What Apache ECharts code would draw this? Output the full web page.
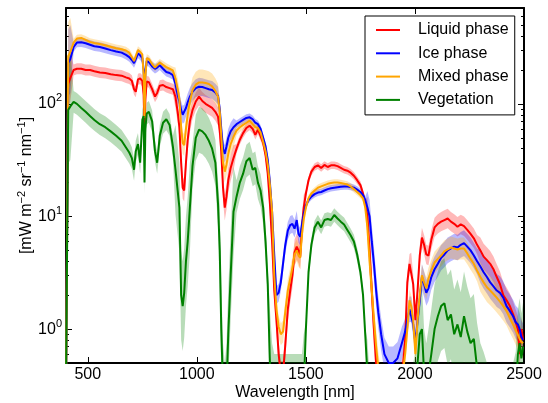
<!DOCTYPE html>
<html><head><meta charset="utf-8">
<script src="https://cdn.jsdelivr.net/npm/echarts@6/dist/echarts.min.js"></script>
<style>html,body{margin:0;padding:0;background:#fff}#c{width:548px;height:403px}</style>
</head><body><div id="c"></div>
<script>
// ---- data ----
const wavelengths = [
 400,410,420,435,450,470,490,510,530,555,
 580,605,630,655,675,690,702,712,720,730,
 740,750,756,760,764,770,780,795,808,818,
 830,845,860,875,890,902,912,920,928,935,
 942,950,958,968,980,995,1010,1025,1040,1055,
 1070,1085,1097,1105,1112,1120,1128,1136,1144,1155,
 1168,1182,1197,1212,1227,1242,1256,1268,1280,1292,
 1304,1315,1325,1335,1345,1355,1365,1375,1385,1395,
 1405,1417,1428,1438,1448,1458,1466,1474,1482,1490,
 1500,1512,1525,1540,1555,1570,1585,1600,1615,1630,
 1645,1660,1675,1690,1705,1720,1735,1750,1762,1772,
 1782,1792,1802,1812,1822,1832,1845,1860,1880,1900,
 1920,1940,1955,1965,1975,1983,1992,2002,2012,2022,
 2032,2042,2052,2062,2075,2090,2105,2120,2135,2150,
 2165,2180,2195,2210,2225,2240,2255,2270,2285,2300,
 2315,2330,2345,2360,2375,2390,2405,2420,2435,2450,
 2462,2472,2480,2488,2496];

const liquid = [
 0.3,150,170,200,205,205,200,200,195,190,
 188,183,180,178,172,168,160,135,128,165,
 168,160,120,60,110,158,156,135,116,125,
 145,147,141,138,135,115,85,62,30,18,
 17,30,48,70,88,105,116,106,100,96,
 92,85,77,58,38,18,12,15,21,27,
 33,40,48,55,61,64,60,53,59,52,
 45,35,24,13,6,2.2,1.2,0.6,0.4,0.4,
 0.7,1.5,2.2,3.0,4.8,5.4,5.0,4.4,8,12,
 16,21,25,27.5,28.5,27,28.7,27.5,28.5,28.5,
 28,27,26,25.5,24.5,23,21,19,16,13,
 10,5,2.2,1.0,0.5,0.3,0.2,0.2,0.2,0.2,
 0.3,0.35,0.8,2.6,3.8,3.9,2.5,1.2,2.2,4.5,
 6.5,5.6,4.6,4.5,6.2,8.0,8.6,9.0,9.3,9.6,
 9.0,8.6,8.1,8.5,8.2,7.6,7.0,6.4,5.6,5.0,
 4.4,4.1,3.8,3.4,2.9,2.5,2.0,1.8,1.6,1.35,
 1.15,1.0,0.6,1.0,0.8];

const ice = [
 0.3,230,250,320,350,352,345,335,325,320,
 310,300,292,285,272,260,245,230,250,280,
 270,255,200,110,190,240,235,215,205,210,
 220,205,192,188,180,150,120,105,88,80,
 82,92,103,116,128,138,142,141,138,135,
 133,126,118,90,60,40,36,42,50,57,
 62,66,69,72,75,76,73,68,66,60,
 50,42,32,20,11,4.5,2.0,2.1,2.6,3.8,
 5.5,7.5,8.4,8.6,7.8,9.3,7.0,6.6,8.5,10.5,
 12.5,14,15,15.8,16.3,16.5,17,17.5,17.8,18,
 18.2,18.4,18.5,18.5,18.3,18,17.3,16.5,15.5,14,
 12,10,6,3.8,2.2,1.4,0.9,0.6,0.5,0.5,
 0.55,0.75,0.95,1.2,1.5,1.5,1.1,0.75,1.2,1.8,
 2.9,2.5,2.1,2.3,2.9,3.4,3.8,4.3,4.6,5.0,
 5.2,5.4,5.3,5.6,5.8,5.4,5.0,4.5,4.0,3.6,
 3.2,2.9,2.6,2.4,2.2,2.1,1.9,1.6,1.45,1.3,
 1.15,1.1,1.0,0.85,0.8];

const mixed = [
 0.3,265,290,350,380,385,370,355,347,340,
 332,322,312,305,298,285,260,240,265,300,
 290,275,180,75,170,255,250,225,210,220,
 232,222,212,205,198,168,135,110,62,45,
 43,60,80,105,132,148,155,155,153,150,
 143,130,116,85,52,30,25,29,36,44,
 51,58,62,65,68,71,66,62,61,56,
 46,38,29,19,11,3,1.5,1.05,0.9,0.95,
 1.4,2.2,2.8,3.5,4.6,5.0,4.5,4.3,7,9.5,
 12,14.5,16,17,18,18.5,19,19.5,19.8,20,
 20,19.8,19.5,19.2,18.5,17.5,16.5,15.5,14.5,12,
 8,4,2.2,1.2,0.7,0.45,0.3,0.2,0.2,0.2,
 0.25,0.35,0.6,1.0,1.8,1.6,1.2,0.6,1.2,2.0,
 3.0,2.6,2.3,2.8,3.3,3.9,4.2,4.5,4.9,5.1,
 5.3,5.2,5.1,5.2,5.2,4.7,4.2,3.8,3.3,2.9,
 2.6,2.35,2.2,2.05,1.9,1.75,1.6,1.45,1.25,1.1,
 0.98,0.89,0.82,0.77,0.75];

const vegetation = [
 0.3,88,95,104,100,92,85,78,72,66,
 62,57,52,47,41,37,33,26,38,44,
 30,72,78,20,60,82,85,70,38,30,
 52,68,73,65,42,26,17,12,2.0,1.6,
 2.1,4,6,12,28,50,59,57,53,47,
 40,30,13,5,1,0.3,0.2,0.3,0.9,3,
 11,15,20,24,31,33,26,27,20,17,
 12,6,2.5,0.5,0.25,0.2,0.2,0.2,0.2,0.2,
 0.2,0.2,0.2,0.2,0.2,0.2,0.2,0.2,0.2,0.3,
 1.0,3.2,5.6,8,9,8,9.3,9.5,9.3,10.3,
 9.6,9,8.5,7.6,6.8,6.0,4.6,3.2,2.0,0.9,
 0.4,0.2,0.2,0.2,0.2,0.2,0.2,0.2,0.2,0.2,
 0.2,0.2,0.2,0.2,0.2,0.2,0.2,0.25,0.5,0.9,
 1.0,0.4,0.3,0.4,0.6,1.0,1.3,1.6,1.7,1.2,
 1.35,0.9,1.1,0.85,1.3,0.95,0.75,0.82,0.45,0.3,
 0.25,0.2,0.2,0.2,0.2,0.2,0.2,0.2,0.2,0.2,
 0.25,0.6,0.75,0.55,0.7];

// spread of the shaded bands (multiplicative), per wavelength segment
const bandEdges = [400, 425, 900, 980, 1100, 1170, 1330, 1500, 1780, 1950, 2300];
const liquidSpread     = [1.6, 1.12, 1.25, 1.2, 1.3, 1.1, 1.3, 1.08, 1.5, 1.22, 1.3];
const iceSpread        = [2.0, 1.1, 1.2, 1.2, 1.2, 1.08, 1.2, 1.07, 1.4, 1.3, 1.4];
const mixedSpread      = [2.0, 1.08, 1.25, 1.3, 1.25, 1.1, 1.25, 1.07, 1.4, 1.25, 1.35];
const vegetationSpread = [3.0, 1.25, 2.5, 1.6, 2.5, 1.4, 3.0, 1.15, 2.0, 2.5, 2.5];

const seriesNames = ['Liquid phase', 'Ice phase', 'Mixed phase', 'Vegetation'];
const xTickValues = [500, 1000, 1500, 2000, 2500];
const yMajorTicks = [1, 10, 100];
const yMinorTicks = [0.6,0.7,0.8,0.9, 2,3,4,5,6,7,8,9, 20,30,40,50,60,70,80,90, 200,300,400,500,600,700];
const yMin = 0.5, yMax = 710;
const xMin = 400, xMax = 2500;

// ---- chart ----
const FONT = 'Liberation Sans, Arial, sans-serif';
const colors = ['#ff0000', '#0000ff', '#ffa500', '#008000'];
const valueSets = [liquid, ice, mixed, vegetation];
const spreadSets = [liquidSpread, iceSpread, mixedSpread, vegetationSpread];

function segmentOf(w) { let s = 0; for (let i = 0; i < bandEdges.length; i++) if (w >= bandEdges[i]) s = i; return s; }

const series = [];
valueSets.forEach((vals, i) => {
  const sp = spreadSets[i];
  series.push({
    type: 'custom', name: seriesNames[i] + ' band', silent: true, z: 1, clip: true,
    xAxisIndex: 0, yAxisIndex: 0,
    data: [[1000, 10]],
    renderItem: (params, api) => {
      const lower = wavelengths.map((w, k) => api.coord([w, vals[k] / sp[segmentOf(w)]]));
      const upper = wavelengths.map((w, k) => api.coord([w, vals[k] * sp[segmentOf(w)]])).reverse();
      const cs = params.coordSys;
      return {
        type: 'group',
        clipPath: { type: 'rect', shape: { x: cs.x, y: cs.y, width: cs.width, height: cs.height } },
        children: [{ type: 'polygon', shape: { points: lower.concat(upper) },
                     style: { fill: colors[i], opacity: 0.28 } }]
      };
    }
  });
});
valueSets.forEach((vals, i) => {
  series.push({
    type: 'line', name: seriesNames[i], symbol: 'none', showSymbol: false, z: 3,
    color: colors[i], lineStyle: { color: colors[i], width: 2 }, xAxisIndex: 0, yAxisIndex: 0,
    data: wavelengths.map((w, k) => [w, vals[k]])
  });
});

const L = Math.log10;
const logAxisBase = { type: 'value', min: L(yMin), max: L(yMax), splitLine: { show: false } };
const tickLine = { color: '#000', width: 1 };
const spine = { color: '#000', width: 2 };

const option = {
  animation: false,
  backgroundColor: '#fff',
  grid: { left: 66, right: 24, top: 8, bottom: 40, containLabel: false, outerBoundsMode: 'none' },
  legend: {
    data: seriesNames, orient: 'vertical', left: 365, top: 16,
    icon: 'rect', itemWidth: 24, itemHeight: 2, itemGap: 5.3,
    padding: [5, 6, 6, 11], borderColor: '#000', borderWidth: 1, borderRadius: 0, backgroundColor: '#fff',
    textStyle: { fontSize: 16, color: '#000', fontFamily: FONT, lineHeight: 18, padding: [0, 0, 0, 13] }
  },
  xAxis: [
    { type: 'value', min: xMin, max: xMax, position: 'bottom',
      axisLine: { onZero: false, lineStyle: spine },
      axisTick: { inside: true, length: 6, customValues: xTickValues, lineStyle: tickLine },
      axisLabel: { customValues: xTickValues, formatter: v => String(v), fontSize: 16, color: '#000', fontFamily: FONT, margin: 4 },
      splitLine: { show: false },
      name: 'Wavelength [nm]', nameLocation: 'middle', nameGap: 22, nameMoveOverlap: false,
      nameTextStyle: { fontSize: 16, color: '#000', fontFamily: FONT } },
    { type: 'value', min: xMin, max: xMax, position: 'top',
      axisLine: { onZero: false, lineStyle: spine },
      axisTick: { inside: true, length: 6, customValues: xTickValues, lineStyle: tickLine },
      axisLabel: { show: false }, splitLine: { show: false } }
  ],
  yAxis: [
    { type: 'log', logBase: 10, min: yMin, max: yMax, show: false, axisLine: { onZero: false } },
    Object.assign({}, logAxisBase, { position: 'left',
      axisLine: { show: true, onZero: false, lineStyle: spine },
      axisTick: { show: true, inside: true, length: 3, customValues: yMinorTicks.map(L), lineStyle: tickLine },
      axisLabel: { customValues: yMajorTicks.map(L), margin: 4,
        formatter: v => '{b|10}{s|' + Math.round(v) + '}',
        rich: { b: { fontSize: 16, color: '#000', fontFamily: FONT, lineHeight: 22 },
                s: { fontSize: 11, color: '#000', fontFamily: FONT, lineHeight: 11, verticalAlign: 'top' } } },
      name: '{n|[mW m}{s|−2}{n| sr}{s|−1}{n| nm}{s|−1}{n|]}', nameLocation: 'middle', nameGap: 28, nameRotate: 90,
      nameMoveOverlap: false,
      nameTextStyle: { rich: {
        n: { fontSize: 16, color: '#000', fontFamily: FONT, lineHeight: 22 },
        s: { fontSize: 11, color: '#000', fontFamily: FONT, lineHeight: 11, verticalAlign: 'top' } } } }),
    Object.assign({}, logAxisBase, { position: 'left', axisLine: { show: false, onZero: false },
      axisTick: { show: true, inside: true, length: 6, customValues: yMajorTicks.map(L), lineStyle: tickLine },
      axisLabel: { show: false } }),
    Object.assign({}, logAxisBase, { position: 'right',
      axisLine: { show: true, onZero: false, lineStyle: spine },
      axisTick: { show: true, inside: true, length: 3, customValues: yMinorTicks.map(L), lineStyle: tickLine },
      axisLabel: { show: false } }),
    Object.assign({}, logAxisBase, { position: 'right', axisLine: { show: false, onZero: false },
      axisTick: { show: true, inside: true, length: 6, customValues: yMajorTicks.map(L), lineStyle: tickLine },
      axisLabel: { show: false } })
  ],
  series: series
};

const chart = echarts.init(document.getElementById('c'), null, { renderer: 'canvas' });
chart.setOption(option);
</script>
</body></html>
